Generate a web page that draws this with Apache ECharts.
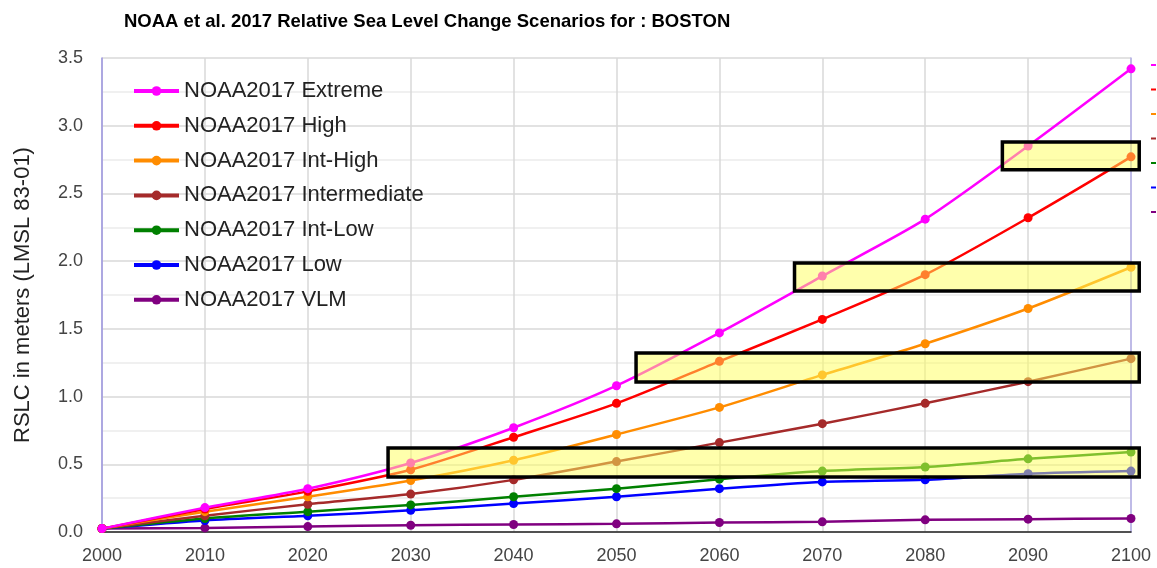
<!DOCTYPE html>
<html>
<head>
<meta charset="utf-8">
<script src="https://cdn.jsdelivr.net/npm/echarts@6/dist/echarts.min.js"></script>
<style>
  html, body { margin: 0; padding: 0; background: #fff; }
  #main { width: 1157px; height: 568px; }
</style>
</head>
<body>
<div id="main"></div>
<script>
// years on the x axis
const years = [2000, 2010, 2020, 2030, 2040, 2050, 2060, 2070, 2080, 2090, 2100];

// scenario values, metres
const extreme      = [0.025, 0.18, 0.32, 0.51, 0.77, 1.08, 1.47, 1.89, 2.31, 2.85, 3.42];
const high         = [0.025, 0.17, 0.30, 0.46, 0.70, 0.95, 1.26, 1.57, 1.90, 2.32, 2.77];
const intHigh      = [0.025, 0.15, 0.26, 0.38, 0.53, 0.72, 0.92, 1.16, 1.39, 1.65, 1.955];
const intermediate = [0.025, 0.12, 0.205, 0.28, 0.385, 0.52, 0.66, 0.80, 0.95, 1.11, 1.28];
const intLow       = [0.025, 0.10, 0.15, 0.20, 0.26, 0.32, 0.39, 0.45, 0.48, 0.54, 0.59];
const low          = [0.025, 0.085, 0.12, 0.16, 0.21, 0.26, 0.32, 0.37, 0.385, 0.43, 0.45];
const vlm          = [0.025, 0.03, 0.04, 0.05, 0.055, 0.06, 0.07, 0.075, 0.09, 0.095, 0.10];

const names = ['NOAA2017 Extreme', 'NOAA2017 High', 'NOAA2017 Int-High', 'NOAA2017 Intermediate',
  'NOAA2017 Int-Low', 'NOAA2017 Low', 'NOAA2017 VLM'];
const colors = ['#ff00ff', '#ff0000', '#ff8c00', '#a52a2a', '#008000', '#0000ff', '#800080'];
const values = [extreme, high, intHigh, intermediate, intLow, low, vlm];

// highlight boxes drawn over the chart: [x0, x1, yTop, yBottom] in data units
const boxes = [
  [2087.5, 2100.8, 2.88, 2.674],
  [2067.3, 2100.8, 1.987, 1.78],
  [2051.9, 2100.8, 1.322, 1.108],
  [2027.8, 2100.8, 0.62, 0.406]
];

const font = 'Liberation Sans, Arial, sans-serif';
const chart = echarts.init(document.getElementById('main'));

const option = {
  animation: false,
  color: colors,
  title: {
    text: 'NOAA et al. 2017 Relative Sea Level Change Scenarios for : BOSTON',
    left: 119, top: 7,
    textStyle: { fontFamily: font, fontSize: 18.5, fontWeight: 'bold', color: '#000' }
  },
  grid: { left: 102, right: 26, top: 58, bottom: 36 },
  legend: [{
    orient: 'vertical',
    left: 127, top: 75,
    itemWidth: 45, itemHeight: 12,
    itemGap: 12.8,
    lineStyle: { width: 4 },
    data: names,
    textStyle: { fontFamily: font, fontSize: 22, color: '#222' }
  }, {
    // truncated legend at the right edge
    orient: 'vertical',
    left: 1146, top: 59,
    icon: 'rect',
    itemWidth: 5, itemHeight: 2,
    itemGap: 22.5,
    selectedMode: false,
    data: names,
    formatter: () => '',
    textStyle: { fontSize: 1 }
  }],
  xAxis: {
    type: 'value',
    min: 2000, max: 2100, interval: 10,
    axisLine: { lineStyle: { color: '#222', width: 1.5 } },
    axisTick: { show: false },
    axisLabel: { formatter: v => String(v), fontFamily: font, fontSize: 18, color: '#444', margin: 15 },
    splitLine: { show: true, lineStyle: { color: '#d8d8d8', width: 1.5 } }
  },
  yAxis: [{
    type: 'value',
    min: 0, max: 3.5, interval: 0.5,
    name: 'RSLC in meters (LMSL 83-01)',
    nameLocation: 'middle',
    nameGap: 68,
    nameTextStyle: { fontFamily: font, fontSize: 22, color: '#222' },
    axisLine: { show: true, lineStyle: { color: '#9b95e0', width: 1.5 } },
    axisTick: { show: false },
    axisLabel: { formatter: v => v.toFixed(1), fontFamily: font, fontSize: 18, color: '#444', margin: 19 },
    splitLine: { lineStyle: { color: '#d8d8d8', width: 1.5 } },
    minorTick: { show: false, splitNumber: 2 },
    minorSplitLine: { show: true, lineStyle: { color: '#ececec', width: 1.5 } }
  }, {
    type: 'value',
    position: 'right',
    min: 0, max: 3.5, interval: 0.5,
    axisLine: { show: true, lineStyle: { color: '#b3aee8', width: 1.5 } },
    axisTick: { show: false },
    axisLabel: { show: false },
    splitLine: { show: false }
  }],
  series: names.map((n, i) => ({
    name: n,
    type: 'line',
    smooth: 0.25,
    symbol: 'circle',
    symbolSize: 9,
    lineStyle: { width: 2.5 },
    data: years.map((y, j) => [y, values[i][j]]),
    z: 10 - i
  }))
};

chart.setOption(option);

// overlay the yellow highlight boxes, placed through the axes
const rects = boxes.map(b => {
  const p0 = chart.convertToPixel({ gridIndex: 0 }, [b[0], b[2]]);
  const p1 = chart.convertToPixel({ gridIndex: 0 }, [b[1], b[3]]);
  return {
    type: 'rect',
    shape: { x: p0[0], y: p0[1], width: p1[0] - p0[0], height: p1[1] - p0[1] },
    style: { fill: 'rgba(255,255,90,0.5)', stroke: '#000', lineWidth: 3.5 },
    z: 100
  };
});
chart.setOption({ graphic: rects });
</script>
</body>
</html>
